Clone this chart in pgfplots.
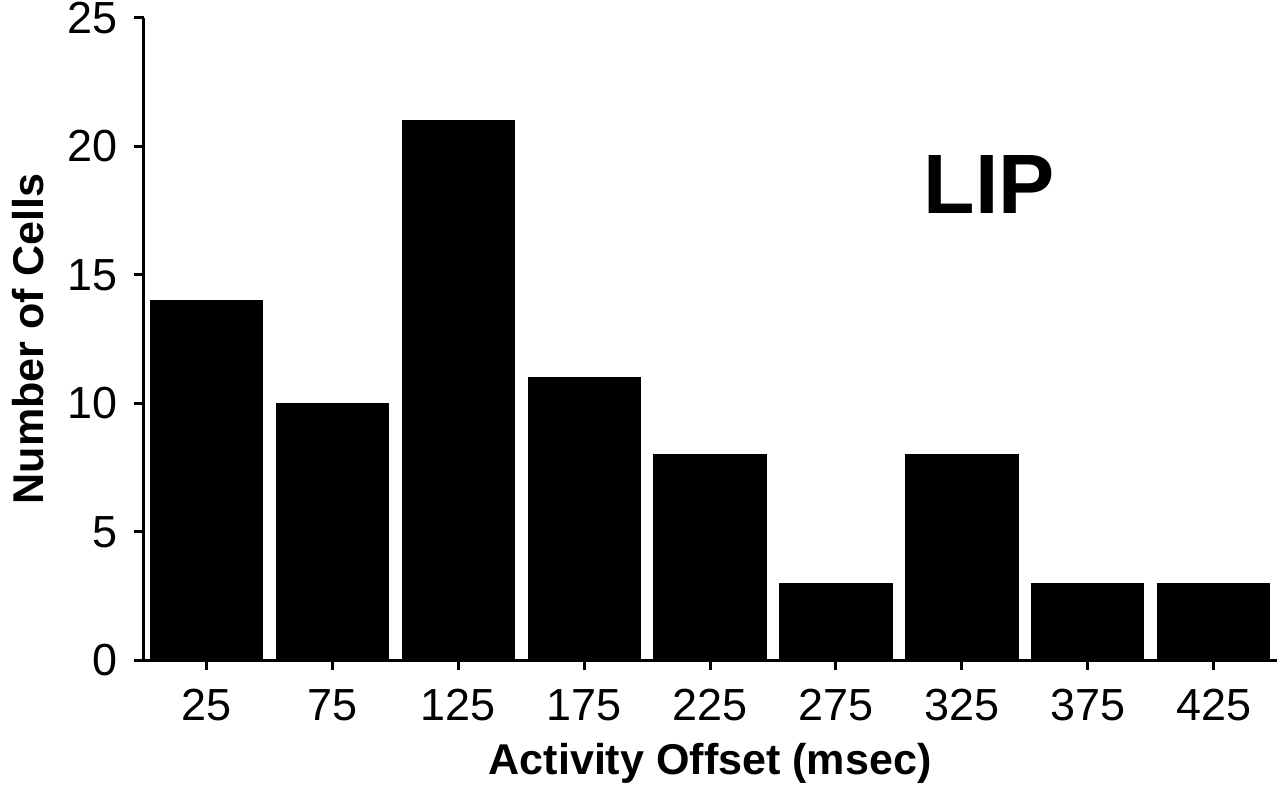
\documentclass[border=0pt]{standalone}
\usepackage{fontspec}
\setmainfont{Liberation Sans}
\usepackage{pgfplots}
\pgfplotsset{compat=1.18}

\begin{document}
\begin{tikzpicture}
\begin{axis}[
  scale only axis,
  width=10.63cm, height=6.03cm,
  xmin=0, xmax=450,
  ymin=0, ymax=25,
  axis x line=bottom, axis y line=left,
  axis line style={-, line width=0.8pt},
  xtick={25,75,...,425},
  ytick={0,5,...,25},
  tick align=outside,
  major tick length=0.09cm,
  tick style={line width=0.8pt, black},
  /pgf/number format/assume math mode=true,
  ticklabel style={font=\fontsize{12}{14}\selectfont},
  xticklabel style={yshift=-0.06cm},
  yticklabel style={xshift=-0.03cm, inner ysep=0.5pt},
  xlabel={\textbf{Activity Offset (msec)}},
  ylabel={\textbf{Number of Cells}},
  label style={font=\fontsize{11.5}{14}\selectfont},
  xlabel style={yshift=-0.05cm, inner ysep=1pt},
  ylabel style={yshift=-0.02cm},
  ybar, bar width=1.05cm,
  clip=false,
]
\addplot[fill=black, draw=black] coordinates {
  (25,14) (75,10) (125,21) (175,11) (225,8)
  (275,3) (325,8) (375,3) (425,3)
};
\node[font=\fontsize{22.5}{26}\selectfont\bfseries] at (axis cs:336,18.5) {LIP};
\end{axis}
\end{tikzpicture}
\end{document}
